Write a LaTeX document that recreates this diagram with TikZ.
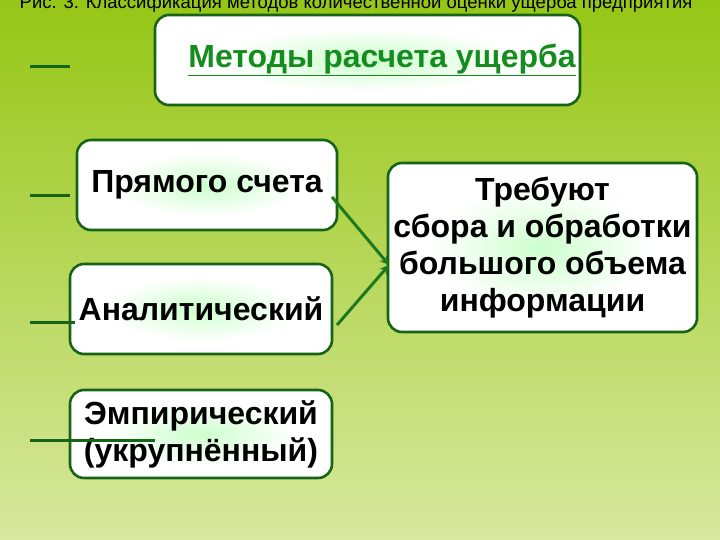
\documentclass[tikz,border=0pt]{standalone}
\usepackage{fontspec}
\setmainfont{Liberation Sans}
\usepackage{tikz}
\usetikzlibrary{arrows,calc,shapes}
\definecolor{bgtop}{RGB}{150,198,22}
\definecolor{bgbot}{RGB}{216,232,158}
\definecolor{boxline}{RGB}{22,100,22}
\definecolor{linkgreen}{RGB}{30,120,30}
\definecolor{titlegreen}{RGB}{20,140,30}
\pgfdeclareradialshading{glow}{\pgfpoint{0bp}{0bp}}{color(0bp)=(green!20!white); color(10bp)=(green!9!white); color(18bp)=(white); color(50bp)=(white)}
\tikzstyle{block}=[draw=boxline,line width=2.6pt,rounded corners=14pt,shading=glow,inner sep=0pt,align=center,font=\bfseries\fontsize{32}{37}\selectfont]
\tikzstyle{link}=[draw=linkgreen,line width=3pt]
\tikzstyle{tick}=[draw=boxline,line width=3pt]

\begin{document}
\begin{tikzpicture}[x=1pt,y=-1pt]
      \shade[top color=bgtop,bottom color=bgbot] (0,0) rectangle (720,540);
      \useasboundingbox (0,0) rectangle (720,540);
      \begin{scope}
        \clip (0,0) rectangle (720,540);
        \node[anchor=base,font=\fontsize{18.5}{20}\selectfont,inner sep=0pt] at (356,9) (cap) {Рис. 3. Классификация методов количественной оценки ущерба предприятия};
      \end{scope}
      \node[block,minimum width=425,minimum height=90] at (367.5, 60) (t) {\hspace*{29pt}\textcolor{titlegreen}{\underline{Методы расчета ущерба}}};
      \node[block,minimum width=260,minimum height=90] at (207, 185) (a) {Прямого счета};
      \node[block,minimum width=262,minimum height=90] at (201, 309) (b) {Аналитический};
      \node[block,minimum width=262,minimum height=88] at (201, 434) (c) {Эмпирический\\(укрупнённый)};
      \node[block,minimum width=309,minimum height=169] at (542.5, 247.5) (r) {Требуют\\сбора и обработки\\большого объема\\информации};
      \coordinate (p) at (389, 265);
      \coordinate (a1) at (332, 197);
      \coordinate (b1) at (337, 325);
      \draw[link,-stealth] (a1) -- (p);
      \draw[link,-stealth] (b1) -- (p);
      \draw[tick] (30, 67) -- (70, 67);
  		\draw[tick] (30, 196) -- (70, 196);
  		\draw[tick] (30, 322) -- (75, 322);
  		\draw[tick] (30, 440) -- (155, 440);
  	\end{tikzpicture}
\end{document}
